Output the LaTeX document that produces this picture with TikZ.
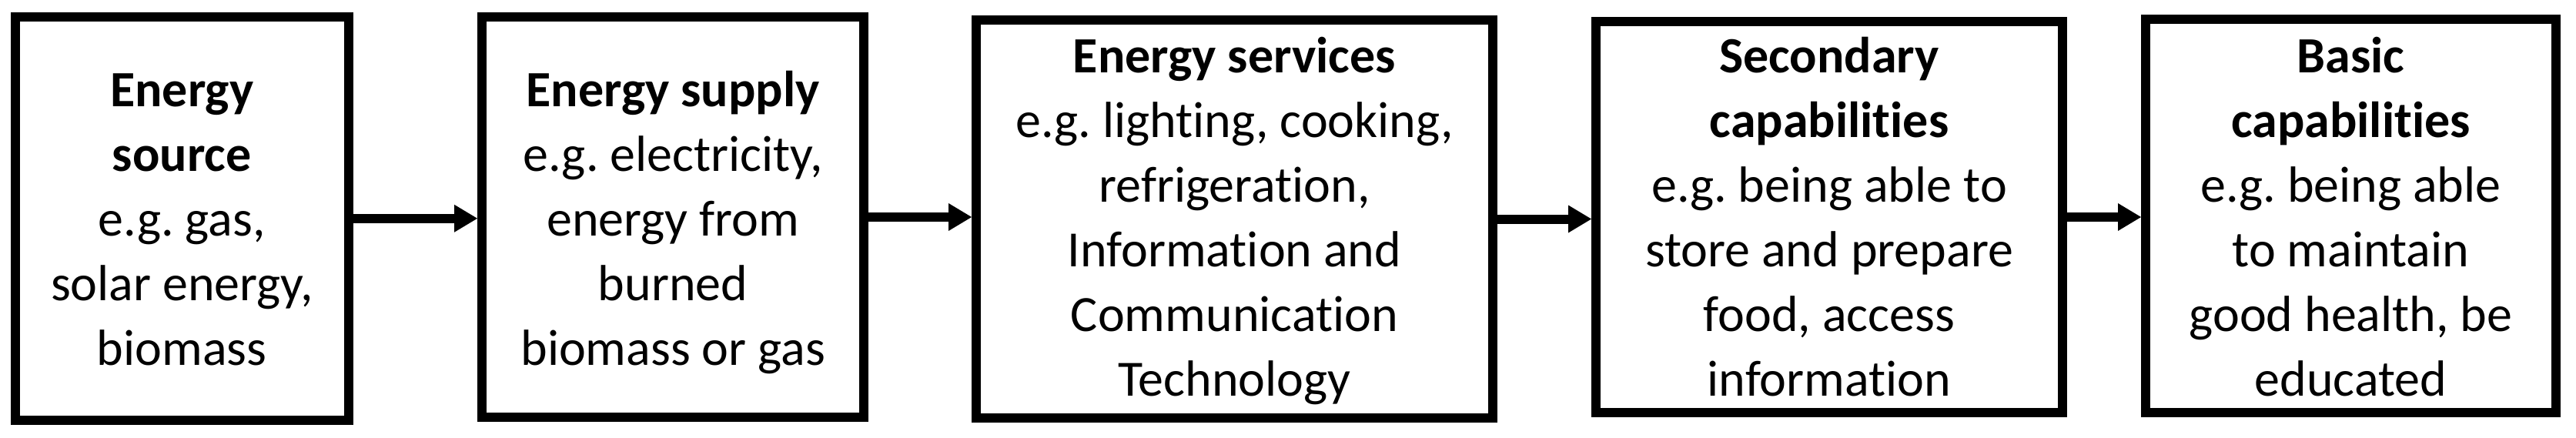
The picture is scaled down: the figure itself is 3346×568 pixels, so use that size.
\documentclass[tikz,border=0pt]{standalone}
\usepackage{fontspec}
\setmainfont{Carlito}[Ligatures={NoCommon,NoContextual}]
\frenchspacing
\usetikzlibrary{arrows.meta}
\begin{document}
\begin{tikzpicture}[x=1pt,y=-1pt,
  stagebox/.style={draw=black, line width=12pt, rectangle, inner sep=0pt, fill=white},
  stagetext/.style={anchor=base, inner sep=0pt, font=\fontsize{66}{84}\selectfont},
  flowarrow/.style={line width=12pt, -{Triangle[length=30pt,width=36pt,line width=0pt]}}]
\fill[white] (0,0) rectangle (3346,568);
\useasboundingbox (0,0) rectangle (3346,568);
% boxes
\node[stagebox, minimum width=433.5pt, minimum height=523.5pt] (b1) at (236.25,283.75) {};
\node[stagebox, minimum width=496.3pt, minimum height=520pt] (b2) at (874.15,282) {};
\node[stagebox, minimum width=671pt, minimum height=517pt] (b3) at (1603.5,284.5) {};
\node[stagebox, minimum width=606pt, minimum height=508pt] (b4) at (2376,282) {};
\node[stagebox, minimum width=533pt, minimum height=510.7pt] (b5) at (3053.5,280.65) {};
% texts
\node[stagetext] (t1) at (236.25,138) {\begin{tabular}[t]{@{}c@{}}\textbf{Energy}\\\textbf{source}\\e.g. gas,\\solar energy,\\biomass\end{tabular}};
\node[stagetext] (t2) at (874.15,138) {\begin{tabular}[t]{@{}c@{}}\textbf{Energy supply}\\e.g. electricity,\\energy from\\burned\\biomass or gas\end{tabular}};
\node[stagetext] (t3) at (1603.5,94) {\begin{tabular}[t]{@{}c@{}}\textbf{Energy services}\\e.g. lighting, cooking,\\refrigeration,\\Information and\\Communication\\Technology\end{tabular}};
\node[stagetext] (t4) at (2376,94) {\begin{tabular}[t]{@{}c@{}}\textbf{Secondary}\\\textbf{capabilities}\\e.g. being able to\\store and prepare\\food, access\\information\end{tabular}};
\node[stagetext] (t5) at (3053.5,94) {\begin{tabular}[t]{@{}c@{}}\textbf{Basic}\\\textbf{capabilities}\\e.g. being able\\to maintain\\good health, be\\educated\end{tabular}};
% arrows
\draw[flowarrow] (b1.east) -- (b1.east -| b2.west);
\draw[flowarrow] (b2.east) -- (b2.east -| b3.west);
\draw[flowarrow] (b3.east) -- (b3.east -| b4.west);
\draw[flowarrow] (b4.east) -- (b4.east -| b5.west);
\end{tikzpicture}
\end{document}
